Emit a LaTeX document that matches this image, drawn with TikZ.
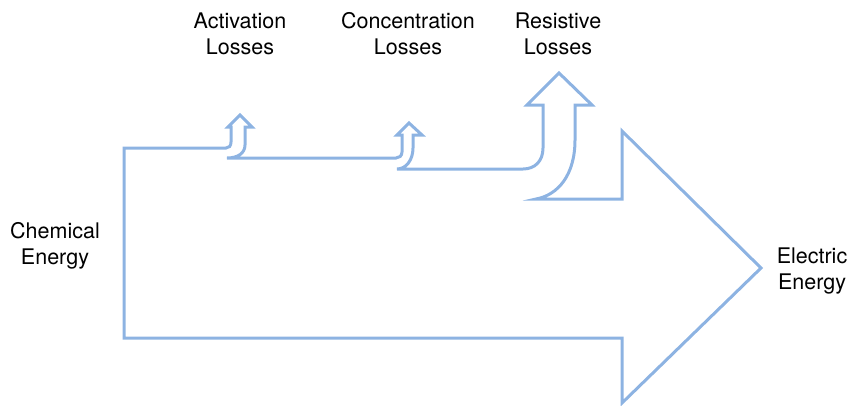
\documentclass[tikz,border=0pt]{standalone}
\usepackage{fontspec}
\setmainfont{TeX Gyre Heros}
\definecolor{flowblue}{RGB}{141,179,226}
\begin{document}
\begin{tikzpicture}[x=1pt,y=-1pt,
  flow/.style={draw=flowblue,line width=3pt,line join=miter},
  lbl/.style={align=center,inner sep=0pt,font=\fontsize{21.5}{26}\selectfont}]
\useasboundingbox (0,0) rectangle (850,405);

% energy flow outline with the three loss branches
\draw[flow] (536,199) -- (622,199) -- (622,131) -- (761,268) -- (622,403)
  -- (622,338) -- (124,338) -- (124,148) -- (226,148)
  .. controls (229,148) and (231,146) .. (231,142)
  -- (231,127) -- (228,127) -- (240,115) -- (252,127) -- (245,127)
  -- (245,145) .. controls (245,153) and (238,158) .. (227,158)
  -- (396,158) .. controls (399,158) and (402,156) .. (402,152)
  -- (402,135) -- (397,135) -- (409,123) -- (422,135) -- (413,135)
  -- (413,148) .. controls (413,160) and (406,169) .. (397,169)
  -- (523,169) .. controls (535,169) and (543,161) .. (543,148)
  -- (543,105) -- (527,105) -- (559,73) -- (592,105) -- (575,105)
  -- (575,140) .. controls (575,175) and (558,195) .. (536,199) -- cycle;

\node[lbl] (act) at (240,34) {Activation\\Losses};
\node[lbl] (conc) at (408,34) {Concentration\\Losses};
\node[lbl] (res) at (558,34) {Resistive\\Losses};
\node[lbl] (chem) at (55,246) {Chemical\\Energy};
\node[lbl] (elec) at (812,271) {Electric\\Energy};
\end{tikzpicture}
\end{document}
